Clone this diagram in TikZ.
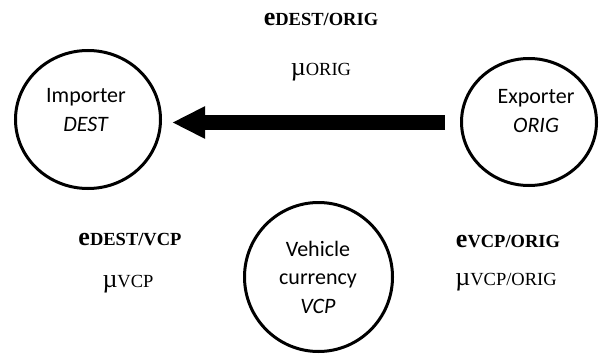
\documentclass[tikz,border=0pt]{standalone}
\usepackage{fontspec}
\setmainfont{Liberation Serif}
\newfontfamily\calib{Carlito}
\usetikzlibrary{shapes.geometric,arrows.meta}
\tikzset{
  party/.style={ellipse, draw, line width=3pt, inner sep=0pt},
  partytext/.style={font=\calib\fontsize{22}{28.5}\selectfont, align=center, inner sep=0pt},
  rate/.style={font=\fontsize{26}{30}\selectfont, anchor=base, inner sep=0pt},
  bigarrow/.style={line width=15pt, -{Triangle[length=33pt,width=30pt]}}
}
\newcommand{\erate}[1]{\textbf{e{\fontsize{18.5}{20}\selectfont #1}}}
\newcommand{\murate}[1]{µ{\fontsize{18.5}{20}\selectfont #1}}
\begin{document}
\begin{tikzpicture}[x=1pt,y=-1pt]
\path[use as bounding box] (0,0) rectangle (599,353);
% parties
\node[party, minimum width=145pt, minimum height=138pt] (imp) at (88,119.5) {};
\node[party, minimum width=135pt, minimum height=127pt] (exp) at (529,122) {};
\node[party, minimum width=148pt, minimum height=149pt] (vcp) at (318.5,277) {};
\node[partytext] (impt) at (86,110) {Importer\\\textit{DEST}};
\node[partytext] (expt) at (536,111) {Exporter\\\textit{ORIG}};
\node[partytext] (vcpt) at (318,277) {Vehicle\\currency\\\textit{VCP}};
% arrow
\coordinate (aS) at (445,122.5);
\coordinate (aE) at (172,122.5);
\draw[bigarrow] (aS) -- (aE);
% rates
\node[rate] (e1) at (321,26) {\erate{DEST/ORIG}};
\node[rate] (m1) at (321,75) {\murate{ORIG}};
\node[rate] (e2) at (130,245) {\erate{DEST/VCP}};
\node[rate] (m2) at (128,287) {\murate{VCP}};
\node[rate] (e3) at (508,247) {\erate{VCP/ORIG}};
\node[rate] (m3) at (506,285) {\murate{VCP/ORIG}};
\end{tikzpicture}
\end{document}
